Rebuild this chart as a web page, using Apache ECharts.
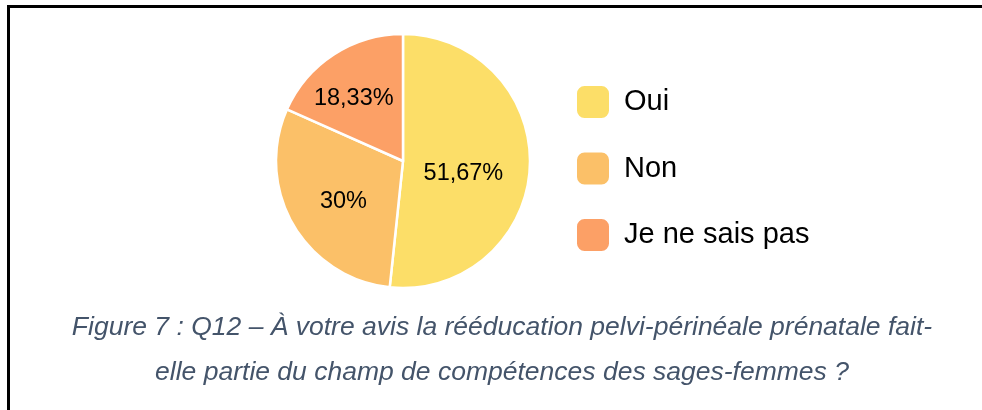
<!DOCTYPE html>
<html lang="fr">
<head>
    <meta charset="UTF-8">
    <title>Figure 7</title>
    <style>
        html, body { margin: 0; padding: 0; background: #fff; }
        #chart { width: 982px; height: 410px; }
    </style>
</head>
<body>
    <div id="chart"></div>
    <script src="https://cdn.jsdelivr.net/npm/echarts@6/dist/echarts.min.js"></script>
    <script>
        var categories = ['Oui', 'Non', 'Je ne sais pas'];
        var values = [51.67, 30, 18.33];
        var labels = ['51,67%', '30%', '18,33%'];
        var colors = ['#FCDE68', '#FBC068', '#FCA066'];
        var caption = 'Figure 7 : Q12 – À votre avis la rééducation pelvi-périnéale prénatale fait-\nelle partie du champ de compétences des sages-femmes ?';

        // small nudges so the inside labels sit where the original put them
        var labelNudge = [[-6, 9], [-2, 7], [-13, -7]];

        var chart = echarts.init(document.getElementById('chart'));

        var pieData = categories.map(function (name, i) {
            return {
                name: name,
                value: values[i],
                itemStyle: { color: colors[i] },
                label: { offset: labelNudge[i] }
            };
        });

        var option = {
            animation: false,
            title: {
                text: caption,
                left: 502,
                top: 305,
                padding: 0,
                textAlign: 'center',
                textStyle: {
                    fontFamily: 'Liberation Sans',
                    fontStyle: 'italic',
                    fontWeight: 'normal',
                    fontSize: 26.5,
                    lineHeight: 45,
                    color: '#44546A'
                }
            },
            legend: {
                orient: 'vertical',
                left: 575,
                top: 84,
                padding: 0,
                itemWidth: 34,
                itemHeight: 34,
                itemGap: 30.5,
                icon: 'roundRect',
                data: categories,
                textStyle: {
                    fontFamily: 'Liberation Sans',
                    fontSize: 29,
                    lineHeight: 30,
                    color: '#000',
                    padding: [0, 0, 0, 9]
                }
            },
            graphic: [{
                type: 'polyline',
                shape: { points: [[8.5, 410], [8.5, 6.5], [982, 6.5]] },
                style: { stroke: '#000', lineWidth: 3, fill: null }
            }],
            series: [{
                type: 'pie',
                center: [403, 161],
                radius: 127,
                startAngle: 90,
                clockwise: true,
                data: pieData,
                itemStyle: { borderColor: '#fff', borderWidth: 2.5 },
                label: {
                    position: 'inside',
                    fontFamily: 'Liberation Sans',
                    fontSize: 23.5,
                    color: '#000',
                    formatter: function (p) { return labels[p.dataIndex]; }
                },
                labelLine: { show: false },
                emphasis: { disabled: true }
            }]
        };

        chart.setOption(option);
    </script>
</body>
</html>
